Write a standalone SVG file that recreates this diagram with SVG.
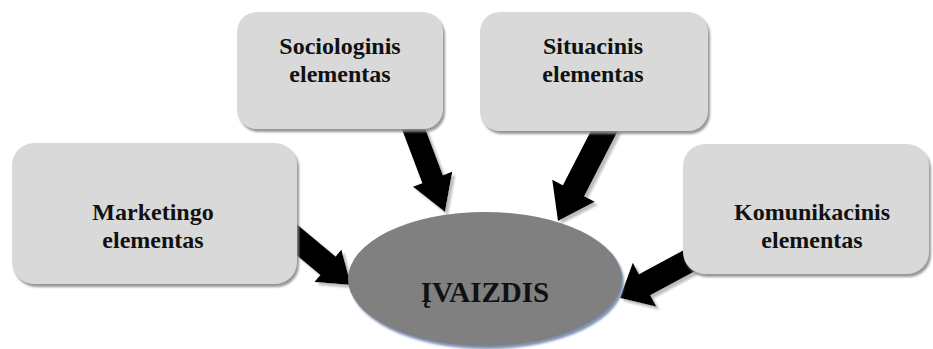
<svg xmlns="http://www.w3.org/2000/svg" width="933" height="349" viewBox="0 0 933 349">
<style>
.box{fill:#d9d9d9;filter:url(#bsh);}
.lbl{font-family:"Liberation Serif","Times New Roman",serif;font-weight:bold;font-size:24px;fill:#111;text-anchor:middle;}
.arr{fill:#000;filter:url(#ash);}
</style>
<defs>
<filter id="bsh" x="-10%" y="-10%" width="130%" height="130%">
<feDropShadow dx="2" dy="3" stdDeviation="1.2" flood-color="#8c8c8c" flood-opacity="0.9"/>
</filter>
<filter id="ash" x="-20%" y="-20%" width="150%" height="150%">
<feDropShadow dx="3" dy="3" stdDeviation="1.2" flood-color="#bdbdbd" flood-opacity="1"/>
</filter>
<filter id="esh" x="-10%" y="-10%" width="130%" height="130%">
<feDropShadow dx="2" dy="3" stdDeviation="1" flood-color="#7f93b5" flood-opacity="1"/>
</filter>
</defs>
<rect width="933" height="349" fill="#fff"/>
<g id="connectors">
<polygon class="arr" points="400.71,125.89 422.34,183.15 412.98,186.68 445,212 452.28,171.84 442.92,175.37 421.29,118.11"/>
<polygon class="arr" points="598.34,116.51 562.91,185.29 552.24,179.79 558,221 594.9,201.77 584.23,196.27 619.66,127.49"/>
<polygon class="arr" points="277.32,239.22 320.27,275.01 314.5,281.92 351,285 341.4,249.66 335.63,256.57 292.68,220.78"/>
<polygon class="arr" points="694.32,244.43 638.99,274.17 632.83,262.71 620,298 656.51,306.77 650.35,295.31 705.68,265.57"/>
</g>
<g id="sociologinis">
<rect class="box" x="237" y="12" width="206" height="117" rx="20"/>
<text class="lbl" x="340" y="54">Sociologinis</text>
<text class="lbl" x="340" y="82">elementas</text>
</g>
<g id="situacinis">
<rect class="box" x="480" y="12" width="228" height="119" rx="20"/>
<text class="lbl" x="593" y="54">Situacinis</text>
<text class="lbl" x="593" y="82">elementas</text>
</g>
<g id="marketingo">
<rect class="box" x="12" y="143" width="285" height="141" rx="22"/>
<text class="lbl" x="153" y="220">Marketingo</text>
<text class="lbl" x="153" y="248">elementas</text>
</g>
<g id="komunikacinis">
<rect class="box" x="683" y="144" width="246" height="130" rx="22"/>
<text class="lbl" x="812" y="220">Komunikacinis</text>
<text class="lbl" x="812" y="248">elementas</text>
</g>
<g id="ivaizdis">
<ellipse cx="485" cy="279" rx="137" ry="67" fill="#808080" filter="url(#esh)"/>
<text x="485" y="302" font-family="'Liberation Serif','Times New Roman',serif" font-weight="bold" font-size="29" fill="#111" text-anchor="middle">ĮVAIZDIS</text>
</g>
</svg>
